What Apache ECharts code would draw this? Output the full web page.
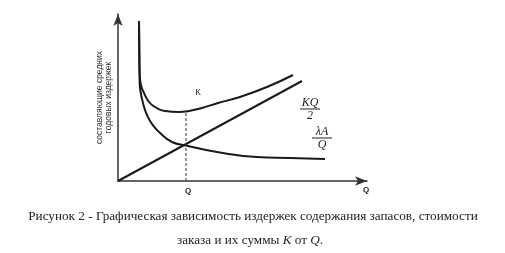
<!DOCTYPE html>
<html><head><meta charset="utf-8">
<script src="https://cdn.jsdelivr.net/npm/echarts@6/dist/echarts.min.js"></script>
<style>html,body{margin:0;padding:0;background:#fff}#c{width:505px;height:253px}</style>
</head><body><div id="c"></div>
<script>
// Data (arbitrary units: Q along x, cost along y)
const orderCost = [[21,160],[21.3,130],[21.6,101],[22.3,91],[25.5,76],[29,66],[34,57],[41,49],[54,39],[68,35.5],[99,29],[139,24],[172,23],[207,22]]; // λA/Q
const totalCost = [[21,160],[21.3,130],[21.6,111],[22.5,98],[26,88],[31,79],[37,74],[47,70],[61,69],[71,70],[84,73],[100,78],[122,84],[149,94],[175,106]]; // K
const holdCost = [[0,0],[184,100]]; // KQ/2
const optimumQ = 68;
const optimumK = 69;
const xMax = 249, yMax = 167;

const chart = echarts.init(document.getElementById('c'));
const lineStyle = {color:'#1a1a1a', width:2};
chart.setOption({
  animation:false,
  grid:{left:118, right:138, top:14, bottom:72},
  xAxis:{type:'value', min:0, max:xMax, axisLine:{show:true, symbol:['none','arrow'], symbolSize:[7,12], lineStyle:{color:'#333', width:1.5}},
    axisTick:{show:false}, axisLabel:{show:false}, splitLine:{show:false}},
  yAxis:{type:'value', min:0, max:yMax, axisLine:{show:true, symbol:['none','arrow'], symbolSize:[7,12], lineStyle:{color:'#333', width:1.5}},
    axisTick:{show:false}, axisLabel:{show:false}, splitLine:{show:false},
    name:'составляющие средних\nгодовых издержек', nameLocation:'middle', nameRotate:90, nameGap:5,
    nameTextStyle:{fontFamily:'Liberation Sans, Arial', fontSize:8.5, color:'#333', lineHeight:9}},
  series:[
    {type:'line', data:orderCost, smooth:0.5, showSymbol:false, lineStyle},
    {type:'line', data:totalCost, smooth:0.5, showSymbol:false, lineStyle},
    {type:'line', data:holdCost, showSymbol:false, lineStyle},
    {type:'line', data:[[optimumQ,0],[optimumQ,optimumK]], showSymbol:false, lineStyle:{color:'#333', width:1, type:[3,2]}}
  ]
});

const p = (x,y)=>chart.convertToPixel({gridIndex:0},[x,y]);
const serif = 'Liberation Serif, Times New Roman, serif';
const g = [];
function txt(x,y,s,opt){ g.push({type:'text', x, y, style:Object.assign({text:s, fill:'#222', align:'center', verticalAlign:'middle', font:'8px Liberation Sans, Arial'},opt||{})}); }
function frac(cx,cy,top,bot){
  txt(cx,cy-6,top,{font:'italic 12px '+serif});
  g.push({type:'line', shape:{x1:cx-10,y1:cy,x2:cx+10,y2:cy}, style:{stroke:'#222', lineWidth:1}});
  txt(cx,cy+7,bot,{font:'italic 12px '+serif});
}
let a = p(optimumQ,0); txt(a[0]+2, a[1]+10, 'Q', {font:'bold 8px Liberation Sans, Arial'});
a = p(xMax,0); txt(a[0]-1, a[1]+9, 'Q', {font:'bold 8px Liberation Sans, Arial'});
a = p(80,88); txt(a[0], a[1], 'K', {font:'8.5px Liberation Sans, Arial'});
a = p(192,72); frac(a[0], a[1], 'KQ', '2');
a = p(204,43); frac(a[0], a[1], 'λA', 'Q');
g.push({type:'text', x:253, y:217, style:{text:'Рисунок 2 - Графическая зависимость издержек содержания запасов, стоимости', font:'13.2px '+serif, fill:'#222', align:'center', verticalAlign:'middle'}});
g.push({type:'text', x:250, y:241, style:{text:'{n|заказа и их суммы }{i|K}{n| от }{i|Q}{n|.}', fill:'#222', align:'center', verticalAlign:'middle',
  rich:{n:{font:'13.2px '+serif, fill:'#222'}, i:{font:'italic 13.2px '+serif, fill:'#222'}}}});
chart.setOption({graphic:g});
</script></body></html>
